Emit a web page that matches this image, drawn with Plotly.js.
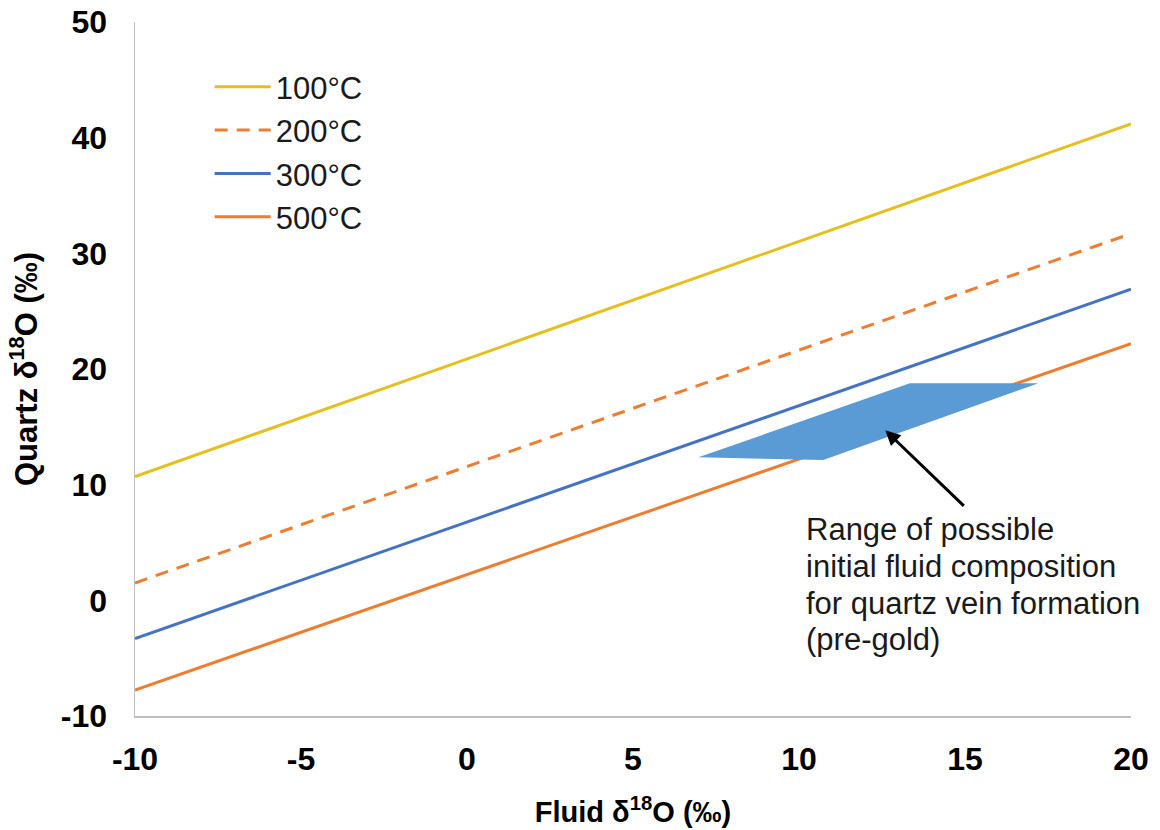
<!DOCTYPE html>
<html>
<head>
<meta charset="utf-8">
<script src="https://cdn.plot.ly/plotly-3.0.1.min.js"></script>
<style>html,body{margin:0;padding:0;background:#fff;}#chart{width:1160px;height:830px;}</style>
</head>
<body>
<div id="chart"></div>
<script>
// Fluid δ18O endpoints (x) and quartz δ18O values
const fluidX = [-10, 20];
const q100 = [10.7, 41.2];
const q200 = [1.5, 31.7];
const q300 = [-3.3, 26.9];
const q500 = [-7.75, 22.2];
const seriesNames = ['100°C', '200°C', '300°C', '500°C'];

// Range polygon (fluid δ18O, quartz δ18O)
const rangeX = [6.97, 10.73, 17.21, 13.34];
const rangeY = [12.36, 12.13, 18.76, 18.76];

// Arrow tip position (data)
const arrowTip = {x: 12.6, y: 14.7};
const noteLines = ['Range of possible', 'initial fluid composition', 'for quartz vein formation', '(pre-gold)'];
const noteAnchor = {x: 10.15, y: 6.1};

const xTicks = [-10, -5, 0, 5, 10, 15, 20];
const yTicks = [-10, 0, 10, 20, 30, 40, 50];

const colors = ['#E6BE1E', '#ED7D31', '#4472C4', '#ED7D31'];
const dashes = ['solid', '13px,9px', 'solid', 'solid'];
const ys = [q100, q200, q300, q500];

const traces = [];
ys.forEach((yv, i) => {
  traces.push({
    x: fluidX, y: yv, type: 'scatter', mode: 'lines', name: seriesNames[i],
    line: {color: colors[i], width: 3, dash: dashes[i]}
  });
});
traces.push({
  x: rangeX, y: rangeY, type: 'scatter', mode: 'lines', fill: 'toself',
  fillcolor: '#5B9BD5', line: {width: 0, color: '#5B9BD5'}, showlegend: false, hoverinfo: 'skip'
});

const annotations = [{
  x: arrowTip.x, y: arrowTip.y, xref: 'x', yref: 'y', ax: 80, ay: 77,
  showarrow: true, arrowhead: 2, arrowsize: 1, arrowwidth: 3, arrowcolor: '#000', text: ''
}];
const lineGap = 36.7 / 11.567;
noteLines.forEach((t, i) => {
  annotations.push({
    x: noteAnchor.x, y: noteAnchor.y - i * lineGap, xref: 'x', yref: 'y',
    xanchor: 'left', yanchor: 'middle', showarrow: false, text: t,
    font: {family: 'Liberation Sans, Arial, sans-serif', size: 31, color: '#1a1a1a'}
  });
});

const layout = {
  width: 1160, height: 830,
  margin: {l: 135, r: 29, t: 22, b: 114},
  paper_bgcolor: '#fff', plot_bgcolor: '#fff',
  font: {family: 'Liberation Sans, Arial, sans-serif', color: '#000'},
  showlegend: true,
  legend: {x: 0.075, y: 0.945, xanchor: 'left', yanchor: 'top', bgcolor: 'rgba(0,0,0,0)',
           font: {size: 31, color: '#1a1a1a'}, itemwidth: 56, tracegroupgap: 0},
  xaxis: {
    range: [-10, 20], tickvals: xTicks, ticktext: xTicks.map(String),
    showgrid: false, zeroline: false, showline: true, linecolor: '#BFBFBF', linewidth: 1.5,
    ticks: '', ticklabelstandoff: 14,
    tickfont: {size: 32, family: 'Liberation Sans, Arial, sans-serif', weight: 'bold', color: '#000'},
    title: {text: '<b>Fluid δ<sup>18</sup>O (‰)</b>', font: {size: 29, color: '#000'}, standoff: 26}
  },
  yaxis: {
    range: [-10, 50], tickvals: yTicks, ticktext: yTicks.map(String),
    showgrid: false, zeroline: false, showline: true, linecolor: '#BFBFBF', linewidth: 1.5,
    ticks: '', ticklabelstandoff: 20,
    tickfont: {size: 32, family: 'Liberation Sans, Arial, sans-serif', weight: 'bold', color: '#000'},
    title: {text: '<b>Quartz δ<sup>18</sup>O (‰)</b>', font: {size: 31, color: '#000'}, standoff: 14}
  },
  annotations: annotations
};

Plotly.newPlot('chart', traces, layout, {displayModeBar: false, staticPlot: true});
</script>
</body>
</html>
